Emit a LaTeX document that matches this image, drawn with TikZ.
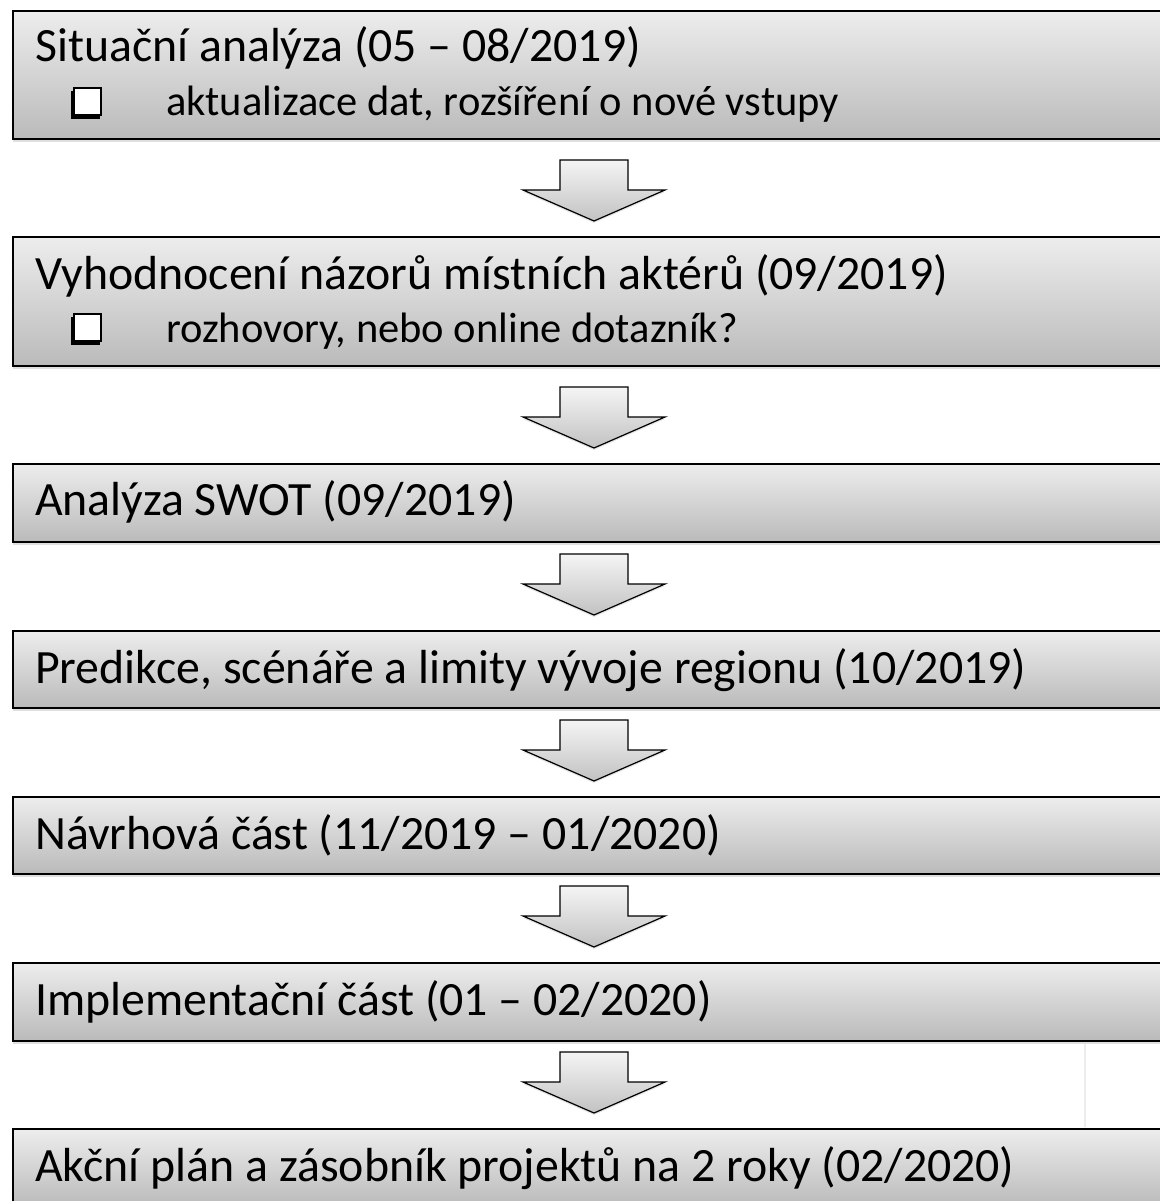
\documentclass[tikz,border=0pt]{standalone}
\usepackage{fontspec}
\setmainfont{Carlito}
\usetikzlibrary{calc,shadows}

\tikzset{
  stepbox/.style={draw=black,line width=1.6pt,top color=black!7,bottom color=black!27,
    anchor=north west,minimum width=1170pt,inner sep=0pt,
    drop shadow={shadow xshift=0pt,shadow yshift=-3pt,opacity=0.25}},
  steptext/.style={anchor=base west,inner sep=0pt,font=\fontsize{47.8}{56}\selectfont},
  subtext/.style={anchor=base west,inner sep=0pt,font=\fontsize{42.5}{50}\selectfont},
  blockarrow/.style={draw=black,line width=1.2pt,line join=miter,top color=black!4,bottom color=black!24,
    drop shadow={shadow xshift=0pt,shadow yshift=-2pt,opacity=0.2}},
}

\begin{document}
\begin{tikzpicture}[x=1pt,y=-1pt]
  \fill[white] (0,0) rectangle (1159,1201);
  \useasboundingbox (0,0) rectangle (1159,1201);

  % boxes
  \node[stepbox,minimum height=128pt] (s1) at (12,10) {};
  \node[stepbox,minimum height=129pt] (s2) at (12,236) {};
  \node[stepbox,minimum height=78pt] (s3) at (12,463) {};
  \node[stepbox,minimum height=77pt] (s4) at (12,630) {};
  \node[stepbox,minimum height=77pt] (s5) at (12,796) {};
  \node[stepbox,minimum height=78pt] (s6) at (12,962) {};
  \node[stepbox,minimum height=78pt] (s7) at (12,1128) {};

  % texts
  \node[steptext] (t1) at ($(s1.north west)+(23,52)$) {Situační analýza (05 – 08/2019)};
  \node[subtext] (u1) at ($(s1.north west)+(154,106)$) {aktualizace dat, rozšíření o nové vstupy};
  \node[steptext] (t2) at ($(s2.north west)+(23,53)$) {Vyhodnocení názorů místních aktérů (09/2019)};
  \node[subtext] (u2) at ($(s2.north west)+(154,106)$) {rozhovory, nebo online dotazník?};
  \node[steptext] (t3) at ($(s3.north west)+(23,52)$) {Analýza SWOT (09/2019)};
  \node[steptext] (t4) at ($(s4.north west)+(23,53)$) {Predikce, scénáře a limity vývoje regionu (10/2019)};
  \node[steptext] (t5) at ($(s5.north west)+(23,53)$) {Návrhová část (11/2019 – 01/2020)};
  \node[steptext] (t6) at ($(s6.north west)+(23,53)$) {Implementační část (01 – 02/2020)};
  \node[steptext] (t7) at ($(s7.north west)+(23,53)$) {Akční plán a zásobník projektů na 2 roky (02/2020)};

  % check boxes
  \foreach \s in {s1,s2}{
    \fill ($(\s.north west)+(59,81)$) rectangle +(29,28);
    \draw[fill=white,line width=1.8pt] ($(\s.north west)+(62,78)$) rectangle +(27,27);
  }

  % arrows between the steps
  \foreach \a/\b in {s1/s2,s2/s3,s3/s4,s4/s5,s5/s6,s6/s7}
    \draw[blockarrow] ($(\b.north west)+(582,-15)$) -- ++(-71,-31) -- ++(37,0) -- ++(0,-30)
      -- ++(68,0) -- ++(0,30) -- ++(37,0) -- cycle;

  \draw[black!7,line width=1.2pt] ($(s6.south west)+(1073,2)$) -- ($(s7.north west)+(1073,-1)$);
\end{tikzpicture}
\end{document}
